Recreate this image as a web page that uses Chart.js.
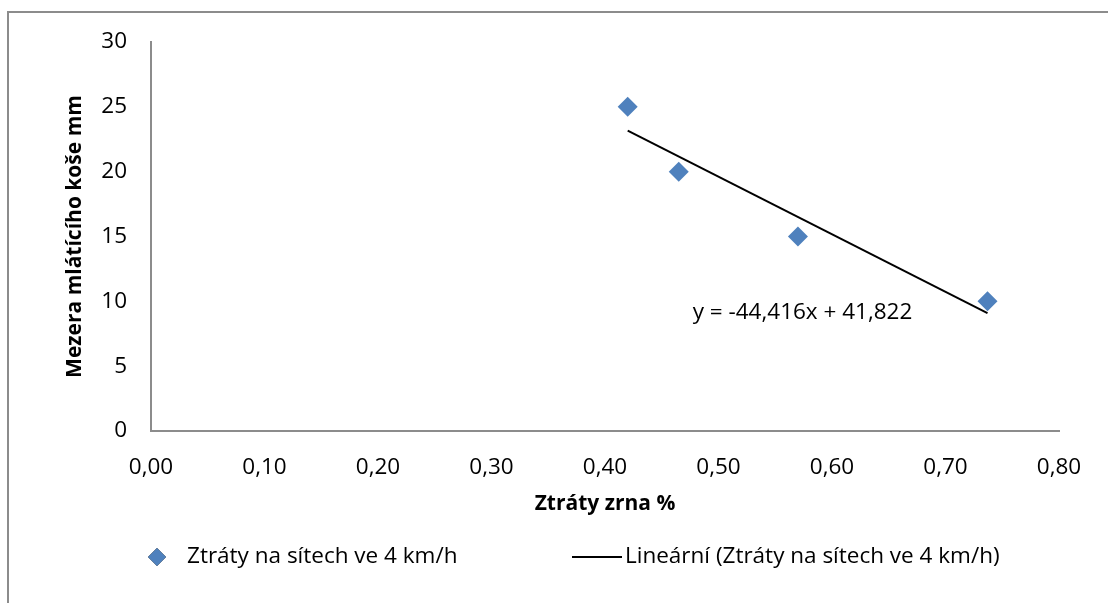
<!DOCTYPE html>
<html>
<head>
<meta charset="utf-8">
<script src="https://cdn.jsdelivr.net/npm/chart.js@4.4.0/dist/chart.umd.min.js"></script>
<style>
  html, body { margin: 0; padding: 0; background: #fff; }
  #wrap { position: relative; width: 1108px; height: 603px; overflow: hidden; }
  #frame { position: absolute; left: 7px; top: 11px; width: 1200px; height: 700px;
           border-left: 2px solid #8c8c8c; border-top: 2px solid #8c8c8c; pointer-events: none; }
  canvas { position: absolute; left: 0; top: 0; }
</style>
</head>
<body>
<div id="wrap">
  <canvas id="c" width="1108" height="603"></canvas>
  <div id="frame"></div>
</div>
<script>
// ---- data ----
const lossPercent = [0.42, 0.465, 0.57, 0.737];   // Ztráty zrna %
const gapMm = [25, 20, 15, 10];                    // Mezera mlátícího koše mm
const seriesName = 'Ztráty na sítech ve 4 km/h';
const trendName = 'Lineární (Ztráty na sítech ve 4 km/h)';
const trendSlope = -44.416;
const trendIntercept = 41.822;
const equationText = 'y = -44,416x + 41,822';
const equationAt = [0.574, 9.1];                   // label anchor in data units
const xTicks = [0, 0.1, 0.2, 0.3, 0.4, 0.5, 0.6, 0.7, 0.8];
const yTicks = [0, 5, 10, 15, 20, 25, 30];
const xTitle = 'Ztráty zrna %';
const yTitle = 'Mezera mlátícího koše mm';

const FONT = '"Open Sans", sans-serif';
const FS = 22.5;   // regular text
const FT = 21;     // bold axis titles
const MARKER = '#4F81BD';
const points = lossPercent.map((x, i) => ({ x, y: gapMm[i] }));
const xMin = Math.min(...lossPercent), xMax = Math.max(...lossPercent);
const trend = [xMin, xMax].map(x => ({ x, y: trendSlope * x + trendIntercept }));

const eqPlugin = {
  id: 'eq',
  afterDatasetsDraw(chart) {
    const { ctx, scales } = chart;
    ctx.save();
    ctx.font = FS + 'px ' + FONT;
    ctx.fillStyle = '#000';
    ctx.textAlign = 'center';
    ctx.textBaseline = 'middle';
    ctx.fillText(equationText, scales.x.getPixelForValue(equationAt[0]), scales.y.getPixelForValue(equationAt[1]));
    ctx.restore();
  }
};

const legendPlugin = {
  id: 'customLegend',
  afterDraw(chart) {
    const { ctx } = chart;
    const y = 557;
    ctx.save();
    ctx.font = FS + 'px ' + FONT;
    ctx.textAlign = 'left';
    ctx.textBaseline = 'middle';
    // series marker
    Chart.helpers.drawPoint(ctx, { pointStyle: 'rectRot', radius: 9, borderWidth: 0 }, 157, y);
    ctx.fillStyle = MARKER;
    ctx.fill();
    ctx.fillStyle = '#000';
    ctx.fillText(seriesName, 187, y);
    // trend line sample
    ctx.strokeStyle = '#000';
    ctx.lineWidth = 2;
    ctx.beginPath();
    ctx.moveTo(572, y);
    ctx.lineTo(622, y);
    ctx.stroke();
    ctx.fillText(trendName, 625, y);
    ctx.restore();
  }
};

new Chart(document.getElementById('c'), {
  type: 'scatter',
  data: {
    datasets: [
      { label: seriesName, data: points, pointStyle: 'rectRot', pointRadius: 10, pointHoverRadius: 10,
        backgroundColor: MARKER, borderColor: MARKER, borderWidth: 0, order: 1 },
      { label: trendName, type: 'line', data: trend, showLine: true, pointRadius: 0,
        borderColor: '#000', backgroundColor: '#000', borderWidth: 2, fill: false, order: 2 }
    ]
  },
  options: {
    responsive: false,
    animation: false,
    devicePixelRatio: 1,
    layout: { padding: { left: 62, right: 49, top: 42, bottom: 70 } },
    plugins: {
      tooltip: { enabled: false },
      legend: { display: false }
    },
    scales: {
      x: {
        type: 'linear', min: 0, max: 0.8,
        afterBuildTicks(s) { s.ticks = xTicks.map(v => ({ value: v })); },
        afterFit(s) { s.height = 102; },
        grid: { display: false, drawTicks: false },
        border: { display: true, color: '#8c8c8c', width: 2 },
        ticks: { color: '#000', padding: 23, maxRotation: 0, font: { family: FONT, size: FS },
                 callback: v => v.toFixed(2).replace('.', ',') },
        title: { display: true, text: xTitle, color: '#000', padding: { top: 0, bottom: 16 },
                 font: { family: FONT, size: FT, weight: 'bold' } }
      },
      y: {
        type: 'linear', min: 0, max: 30,
        afterBuildTicks(s) { s.ticks = yTicks.map(v => ({ value: v })); },
        afterFit(s) { s.width = 89; },
        grid: { display: false, drawTicks: false },
        border: { display: true, color: '#8c8c8c', width: 2 },
        ticks: { color: '#000', padding: 24, font: { family: FONT, size: FS } },
        title: { display: true, text: yTitle, color: '#000', padding: 0,
                 font: { family: FONT, size: FT, weight: 'bold' } }
      }
    }
  },
  plugins: [eqPlugin, legendPlugin]
});
</script>
</body>
</html>
